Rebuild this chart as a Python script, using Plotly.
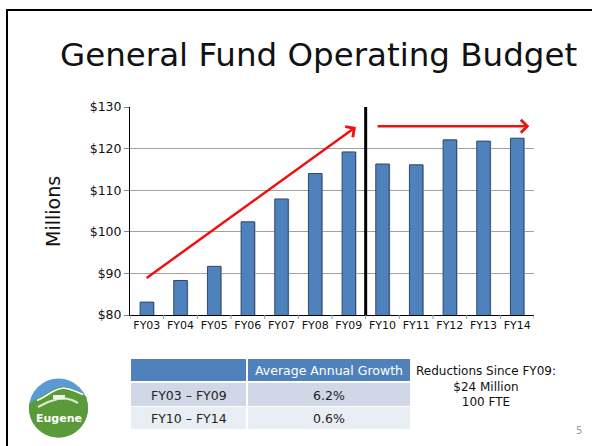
import numpy as np
import plotly.graph_objects as go

W, H = 592, 446

# ---- data ----
fiscal_years = ["FY03", "FY04", "FY05", "FY06", "FY07", "FY08", "FY09",
                "FY10", "FY11", "FY12", "FY13", "FY14"]
budget_millions = [83.1, 88.3, 91.7, 102.4, 107.9, 114.0, 119.2,
                   116.3, 116.1, 122.1, 121.8, 122.5]
y_ticks = [80, 90, 100, 110, 120, 130]
y_tick_labels = ["$80", "$90", "$100", "$110", "$120", "$130"]

table_header = ["", "Average Annual Growth"]
table_periods = ["FY03 \u2013 FY09", "FY10 \u2013 FY14"]
table_growth = ["6.2%", "0.6%"]

note_lines = ["Reductions Since FY09:", "$24 Million", "100 FTE"]


def px(x, y):
    return x / W, 1 - y / H


FONT = "DejaVu Sans"
BAR = "#4F81BD"

fig = go.Figure()

xs = list(range(len(fiscal_years)))
# soft shadow behind bars
fig.add_trace(go.Bar(
    x=xs, y=budget_millions, width=0.4, offset=-0.2 + 0.03,
    marker=dict(color="#B4B4B4", line=dict(width=0)),
    showlegend=False, hoverinfo="skip",
))
fig.add_trace(go.Bar(
    x=xs, y=budget_millions, width=0.4, offset=-0.2,
    marker=dict(color=BAR, line=dict(color="#2B4A72", width=1)),
    showlegend=False, hoverinfo="skip",
))

x0d, x1d = px(130, 0)[0], px(534, 0)[0]
ybot, ytop = px(0, 315)[1], px(0, 107)[1]

fig.update_layout(
    template="none", barmode="overlay",
    width=W, height=H, autosize=False,
    margin=dict(l=0, r=0, t=0, b=0, pad=0),
    paper_bgcolor="white", plot_bgcolor="white",
    font=dict(family=FONT, color="#111"),
    xaxis=dict(domain=[x0d, x1d], range=[-0.5, 11.5], automargin=False,
               tickmode="array", tickvals=xs,
               ticktext=fiscal_years, tickfont=dict(size=11, color="#111"),
               showline=True, linecolor="black", linewidth=1,
               ticks="", showgrid=False, zeroline=False, fixedrange=True),
    yaxis=dict(domain=[ybot, ytop], range=[80, 130], automargin=False,
               tickmode="array", tickvals=y_ticks, ticktext=y_tick_labels,
               tickfont=dict(size=12.5, color="#111"),
               showline=True, linecolor="black", linewidth=1,
               ticks="outside", ticklen=5, tickcolor="#888",
               showgrid=True, gridcolor="#A0A0A0", gridwidth=1,
               zeroline=False, fixedrange=True),
)

# x-axis boundary ticks
for i in range(len(fiscal_years) + 1):
    fig.add_shape(type="line", xref="x", yref="paper",
                  x0=i - 0.5, x1=i - 0.5, y0=ybot, y1=ybot - 4 / H,
                  line=dict(color="#999", width=1))

# divider between FY09 and FY10
fig.add_shape(type="line", xref="x", yref="y", x0=6.5, x1=6.5, y0=80, y1=130,
              line=dict(color="black", width=3))

# trend arrows
fig.add_annotation(x=6.21, y=125.2, ax=-0.05, ay=88.65, xref="x", yref="y",
                   axref="x", ayref="y", text="", showarrow=True,
                   arrowhead=4, arrowsize=1, arrowwidth=2.5, arrowcolor="#F01010")
fig.add_annotation(x=11.36, y=125.35, ax=6.81, ay=125.35, xref="x", yref="y",
                   axref="x", ayref="y", text="", showarrow=True,
                   arrowhead=4, arrowsize=1, arrowwidth=2.5, arrowcolor="#F01010")

# slide border
fig.add_shape(type="rect", xref="paper", yref="paper",
              x0=px(7, 0)[0], x1=px(600, 0)[0], y0=px(0, 460)[1], y1=px(0, 10)[1],
              line=dict(color="black", width=2))


def label(x, y, text, size, color="#111", angle=0):
    fig.add_annotation(x=px(x, 0)[0], y=px(0, y)[1], xref="paper", yref="paper",
                       xanchor="center", yanchor="middle", text=text,
                       textangle=angle, showarrow=False,
                       font=dict(family=FONT, size=size, color=color))


def box(x0, y0, x1, y1, color):
    fig.add_shape(type="rect", xref="paper", yref="paper",
                  x0=px(x0, 0)[0], x1=px(x1, 0)[0],
                  y0=px(0, y1)[1], y1=px(0, y0)[1],
                  fillcolor=color, line=dict(width=0), layer="below")


label(318, 55, "General Fund Operating Budget", 32.5)
label(53, 212, "Millions", 19, angle=-90)
label(486, 386, "<br>".join(note_lines), 12)
label(579, 430, "5", 10, color="#999")

# ---- table ----
col_edges = [(131, 246), (248, 410)]
row_edges = [(359, 381), (383, 406), (407, 429)]
row_fills = [BAR, "#D0D8E8", "#E9EDF4"]
rows = [table_header] + [list(r) for r in zip(table_periods, table_growth)]
for ri, (ry0, ry1) in enumerate(row_edges):
    for ci, (cx0, cx1) in enumerate(col_edges):
        box(cx0, ry0, cx1, ry1, row_fills[ri])
        txt = rows[ri][ci]
        if txt:
            label((cx0 + cx1) / 2, (ry0 + ry1) / 2 + 0.5, txt, 12.5,
                  color="white" if ri == 0 else "#222")

# ---- logo ----
cx, cy, r = 58.5, 408, 29.5
fig.add_shape(type="circle", xref="paper", yref="paper",
              x0=px(cx - r, 0)[0], x1=px(cx + r, 0)[0],
              y0=px(0, cy + r)[1], y1=px(0, cy - r)[1],
              fillcolor="#5B9BD5", line=dict(width=0))


def poly(points, close=True):
    s = "M " + " L ".join(f"{px(x, y)[0]:.5f},{px(x, y)[1]:.5f}" for x, y in points)
    return s + (" Z" if close else "")


ridge = [(30.5, 403), (36, 399), (42, 396), (50, 391), (56, 388), (62, 386.5),
         (68, 387.5), (75, 390), (82, 393), (87.3, 398)]
t = np.linspace(np.arcsin((398 - cy) / r), np.pi - np.arcsin((403 - cy) / r), 48)
arc = [(cx + r * np.cos(a), cy + r * np.sin(a)) for a in t]
fig.add_shape(type="path", xref="paper", yref="paper", path=poly(ridge + arc),
              fillcolor="#5A9A38", line=dict(width=0))
fig.add_shape(type="path", xref="paper", yref="paper",
              path=poly([(p[0] + 1, p[1] + 1.5) for p in ridge[1:-1]], close=False),
              line=dict(color="white", width=1.5))
hill = [(38, 407), (48, 402), (58, 399), (66, 398.5), (72, 400), (78, 403)]
fig.add_shape(type="path", xref="paper", yref="paper", path=poly(hill, close=False),
              line=dict(color="#DDEBCF", width=2))
fig.add_shape(type="rect", xref="paper", yref="paper",
              x0=px(53, 0)[0], x1=px(65, 0)[0], y0=px(0, 399)[1], y1=px(0, 395)[1],
              fillcolor="#EEF3EA", line=dict(width=0))
label(58.5, 418, "<b>Eugene</b>", 11, color="white")

fig.write_html("out.html",
               config={"displayModeBar": False, "staticPlot": True},
               post_script="document.body.style.margin='0';document.body.style.overflow='hidden';")
